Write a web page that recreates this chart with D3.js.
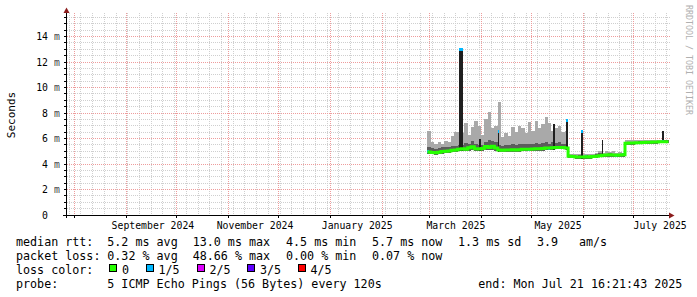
<!DOCTYPE html>
<html>
<head>
<meta charset="utf-8">
<script src="https://cdn.jsdelivr.net/npm/d3@7"></script>
<style>
  body { margin: 0; background: #fff; }
  svg { display: block; }
  text { font-family: "DejaVu Sans Mono", monospace; fill: #000; }
</style>
</head>
<body>
<script>
// smokeping style rtt graph, one sample every 2 days (values in ms)

var firstSample = new Date(2025, 1, 28)
  , lastSample = new Date(2025, 6, 21)
  , sampleDates = d3.timeDay.range(firstSample, lastSample, 2);

var medianRtt = [
  4.95, 4.90, 4.88, 4.92, 4.98, 5.00, 5.02, 5.08, 5.10, 5.15,
  5.20, 5.15, 5.28, 5.35, 5.20, 5.18, 5.22, 5.38, 5.30, 5.40,
  5.25, 5.10, 5.08, 5.10, 5.10, 5.12, 5.10, 5.12, 5.15, 5.15,
  5.15, 5.18, 5.20, 5.20, 5.22, 5.25, 5.25, 5.28, 5.30, 5.30,
  5.30, 5.25, 4.60, 4.58, 4.55, 4.55, 4.55, 4.56, 4.55, 4.58,
  4.60, 4.65, 4.68, 4.70, 4.72, 4.70, 4.68, 4.70, 4.72, 5.62,
  5.64, 5.65, 5.66, 5.67, 5.68, 5.70, 5.70, 5.72, 5.73, 5.74,
  5.75, 5.75
];

var minRtt = [
  4.80, 4.75, 4.72, 4.78, 4.82, 4.85, 4.88, 4.92, 4.95, 5.00,
  5.02, 5.00, 5.05, 5.10, 5.02, 5.00, 5.02, 5.10, 5.08, 5.12,
  5.05, 4.95, 4.95, 4.96, 4.96, 4.98, 4.96, 4.98, 5.00, 5.00,
  5.00, 5.02, 5.05, 5.05, 5.06, 5.08, 5.10, 5.12, 5.14, 5.14,
  5.14, 5.10, 4.45, 4.45, 4.42, 4.42, 4.42, 4.43, 4.42, 4.45,
  4.47, 4.52, 4.55, 4.57, 4.58, 4.57, 4.55, 4.57, 4.58, 5.50,
  5.52, 5.53, 5.54, 5.55, 5.56, 5.57, 5.58, 5.60, 5.60, 5.61,
  5.62, 5.62
];

// inner (darker) smoke top
var midRtt = [
  5.30, 5.25, 5.20, 5.25, 5.30, 5.30, 5.35, 5.40, 5.45, 5.50,
  5.50, 5.65, 5.55, 5.80, 5.60, 5.50, 5.50, 5.75, 5.85, 5.80,
  5.70, 5.50, 5.45, 5.50, 5.50, 5.55, 5.50, 5.60, 5.55, 5.55,
  5.60, 5.55, 5.65, 5.60, 5.65, 5.70, 5.60, 5.70, 5.65, 5.70,
  5.60, 5.60, 4.70, 4.68, 4.65, 4.68, 4.65, 4.68, 4.66, 4.70,
  4.75, 4.85, 4.80, 4.82, 4.85, 4.80, 4.80, 4.82, 4.83, 5.72,
  5.74, 5.75, 5.76, 5.77, 5.78, 5.80, 5.80, 5.82, 5.83, 5.84,
  5.85, 5.85
];

// outer (light) smoke top
var maxRtt = [
  6.60, 5.70, 5.60, 5.75, 5.60, 5.80, 5.70, 6.20, 6.50, 6.50,
  6.40, 7.20, 6.30, 6.90, 7.40, 7.00, 6.30, 7.50, 8.10, 6.80,
  7.00, 8.90, 6.10, 6.40, 6.20, 6.90, 6.50, 7.00, 6.80, 6.40,
  7.30, 6.60, 7.40, 6.80, 7.10, 7.70, 7.20, 6.60, 6.80, 7.00,
  6.50, 6.60, 4.80, 4.75, 4.80, 4.75, 4.80, 4.75, 4.80, 4.80,
  4.90, 5.00, 4.90, 5.00, 4.95, 5.05, 4.90, 4.95, 4.90, 5.85,
  5.88, 5.85, 5.86, 5.88, 5.87, 5.88, 5.90, 5.90, 5.90, 5.92,
  5.92, 5.92
];

// lost pings out of 5
var lossCount = [
  1, 0, 0, 0, 1, 0, 0, 0, 0, 1,
  0, 0, 0, 0, 0, 0, 0, 0, 0, 0,
  0, 1, 0, 0, 0, 0, 0, 0, 0, 0,
  1, 0, 0, 0, 0, 0, 1, 0, 0, 1,
  0, 2, 0, 0, 0, 0, 0, 1, 0, 0,
  0, 0, 0, 0, 0, 0, 1, 0, 1, 0,
  0, 0, 0, 0, 0, 0, 0, 0, 0, 0,
  1, 0
];

// short bursts where every ping was slow
var spikeDates = ['2025-03-19', '2025-03-20', '2025-03-31', '2025-04-11', '2025-05-14',
                  '2025-05-22', '2025-05-31', '2025-06-12', '2025-07-18'];
var spikeTops = [13.1, 13.1, 6.0, 6.7, 7.1, 7.5, 6.7, 5.85, 6.6];
var spikeLoss = [1, 1, 0, 1, 0, 1, 1, 0, 0];

var lossLabels = ['0', '1/5', '2/5', '3/5', '4/5'];
var lossColors = ['#26ff00', '#00b8ff', '#dd00ff', '#5e00ff', '#ff0000'];

var yLabelSteps = [0, 2, 4, 6, 8, 10, 12, 14];

var statRtt = ['5.2 ms avg', '13.0 ms max', '4.5 ms min', '5.7 ms now', '1.3 ms sd', '3.9', 'am/s'];
var statLoss = ['0.32 % avg', '48.66 % max', '0.00 % min', '0.07 % now'];

var tEnd = new Date(2025, 6, 21, 16, 21, 43)
  , tStart = d3.timeDay.offset(tEnd, -359)
  , yMax = 15.69;

// layout
var W = 697, H = 297
  , plotLeft = 67, plotRight = 668
  , plotTop = 15, plotBottom = 215;

var parseDay = d3.timeParse('%Y-%m-%d');

var x = d3.scaleTime().domain([tStart, tEnd]).range([plotLeft, plotRight]);
var y = d3.scaleLinear().domain([0, yMax]).range([plotBottom, plotTop]);

var svg = d3.select('body').append('svg')
  .attr('width', W)
  .attr('height', H);

svg.append('defs').append('clipPath').attr('id', 'plot')
  .append('rect')
  .attr('x', plotLeft).attr('y', 0)
  .attr('width', plotRight - plotLeft + 1).attr('height', plotBottom);

var crisp = function (v) { return Math.floor(v) + 0.5; };

// grid
var grid = svg.append('g').attr('shape-rendering', 'crispEdges');

var minorY = y.ticks(30).filter(function (v) { return v > 0 && v % 2 !== 0; })
  , majorY = yLabelSteps.filter(function (v) { return v > 0; })
  , minorX = d3.timeMonday.range(tStart, tEnd)
  , majorX = d3.timeMonth.range(tStart, tEnd);

grid.selectAll('line.minx').data(minorX).enter().append('line')
  .attr('x1', function (d) { return crisp(x(d)); })
  .attr('x2', function (d) { return crisp(x(d)); })
  .attr('y1', 13).attr('y2', plotBottom)
  .attr('stroke', '#cfcfcf').attr('stroke-dasharray', '1,1');

grid.selectAll('line.miny').data(minorY).enter().append('line')
  .attr('x1', plotLeft).attr('x2', plotRight + 2)
  .attr('y1', function (d) { return crisp(y(d)); })
  .attr('y2', function (d) { return crisp(y(d)); })
  .attr('stroke', '#cfcfcf').attr('stroke-dasharray', '1,1');

grid.selectAll('line.majx').data(majorX).enter().append('line')
  .attr('x1', function (d) { return crisp(x(d)); })
  .attr('x2', function (d) { return crisp(x(d)); })
  .attr('y1', 13).attr('y2', plotBottom)
  .attr('stroke', '#ee9c9c').attr('stroke-dasharray', '1,1');

grid.selectAll('line.majy').data(majorY).enter().append('line')
  .attr('x1', plotLeft).attr('x2', plotRight + 2)
  .attr('y1', function (d) { return crisp(y(d)); })
  .attr('y2', function (d) { return crisp(y(d)); })
  .attr('stroke', '#ee9c9c').attr('stroke-dasharray', '1,1');

// smoke
var samples = sampleDates.map(function (d, i) {
  return { t: d, t2: d3.timeDay.offset(d, 2), med: medianRtt[i], lo: minRtt[i],
           mid: midRtt[i], hi: maxRtt[i], loss: lossCount[i] };
});

var data = svg.append('g').attr('clip-path', 'url(#plot)');
var bars = data.append('g').attr('shape-rendering', 'crispEdges');

bars.selectAll('rect.outer').data(samples).enter().append('rect')
  .attr('x', function (d) { return x(d.t); })
  .attr('width', function (d) { return x(d.t2) - x(d.t); })
  .attr('y', function (d) { return y(d.hi); })
  .attr('height', function (d) { return y(d.lo) - y(d.hi); })
  .attr('fill', '#a9a9a9');

bars.selectAll('rect.inner').data(samples).enter().append('rect')
  .attr('x', function (d) { return x(d.t); })
  .attr('width', function (d) { return x(d.t2) - x(d.t); })
  .attr('y', function (d) { return y(d.mid); })
  .attr('height', function (d) { return y(d.lo) - y(d.mid); })
  .attr('fill', '#5c5c5c');

var findSample = d3.bisector(function (d) { return d.t; }).right;

var spikes = spikeDates.map(function (s, i) {
  var t = parseDay(s)
    , k = Math.max(0, findSample(samples, t) - 1);
  return { t: t, t2: d3.timeDay.offset(t, 1), top: spikeTops[i], base: samples[k].lo, loss: spikeLoss[i] };
});

bars.selectAll('rect.spike').data(spikes).enter().append('rect')
  .attr('x', function (d) { return x(d.t); })
  .attr('width', function (d) { return Math.max(1.5, x(d.t2) - x(d.t)); })
  .attr('y', function (d) { return y(d.top); })
  .attr('height', function (d) { return y(d.base) - y(d.top); })
  .attr('fill', '#1f1f1f');

// median line, coloured by loss
var medLine = d3.line()
  .x(function (d) { return x(d.t); })
  .y(function (d) { return y(d.med); })
  .curve(d3.curveStepAfter);

var linePts = samples.concat([{ t: samples[samples.length - 1].t2, med: samples[samples.length - 1].med }]);

data.append('path')
  .datum(linePts)
  .attr('d', medLine)
  .attr('fill', 'none')
  .attr('stroke', lossColors[0])
  .attr('stroke-width', 3);

bars.selectAll('rect.loss').data(samples.filter(function (d) { return d.loss > 0; })).enter().append('rect')
  .attr('x', function (d) { return x(d.t); })
  .attr('width', function (d) { return x(d3.timeDay.offset(d.t, 1)) - x(d.t); })
  .attr('y', function (d) { return y(d.med) - 1.5; })
  .attr('height', 3)
  .attr('fill', function (d) { return lossColors[d.loss]; });

bars.selectAll('rect.cap').data(spikes.filter(function (d) { return d.loss > 0; })).enter().append('rect')
  .attr('x', function (d) { return x(d.t); })
  .attr('width', function (d) { return Math.max(1.5, x(d.t2) - x(d.t)); })
  .attr('y', function (d) { return y(d.top); })
  .attr('height', 3)
  .attr('fill', function (d) { return lossColors[d.loss]; });

// axes
var axis = svg.append('g').attr('shape-rendering', 'crispEdges');

axis.append('line')
  .attr('x1', 63).attr('x2', 670)
  .attr('y1', plotBottom + 0.5).attr('y2', plotBottom + 0.5)
  .attr('stroke', '#000');

axis.append('line')
  .attr('x1', plotLeft - 0.5).attr('x2', plotLeft - 0.5)
  .attr('y1', 218).attr('y2', 12)
  .attr('stroke', '#000');

axis.selectAll('line.ty').data(minorY.concat(majorY)).enter().append('line')
  .attr('x1', 64).attr('x2', plotLeft)
  .attr('y1', function (d) { return crisp(y(d)); })
  .attr('y2', function (d) { return crisp(y(d)); })
  .attr('stroke', '#000');

axis.selectAll('line.tx').data(majorX).enter().append('line')
  .attr('x1', function (d) { return crisp(x(d)); })
  .attr('x2', function (d) { return crisp(x(d)); })
  .attr('y1', plotBottom).attr('y2', plotBottom + 3)
  .attr('stroke', '#000');

svg.append('path')
  .attr('d', 'M669,212.5L669,218.5L674.5,215.5Z')
  .attr('fill', '#8b1c1c');

svg.append('path')
  .attr('d', 'M63.5,13L69.5,13L66.5,7.5Z')
  .attr('fill', '#8b1c1c');

// axis labels
var yl = svg.append('g').attr('font-size', '9.8px');

yl.selectAll('text.num').data(yLabelSteps).enter().append('text')
  .attr('x', 48)
  .attr('y', function (d) { return crisp(y(d)) + 3.3; })
  .attr('text-anchor', 'end')
  .text(function (d) { return d; });

yl.selectAll('text.unit').data(majorY).enter().append('text')
  .attr('x', 54)
  .attr('y', function (d) { return crisp(y(d)) + 3.3; })
  .style('fill', '#444')
  .text('m');

var labelMonths = d3.timeMonth.every(2).range(tStart, tEnd);

svg.append('g').attr('font-size', '9.8px')
  .selectAll('text').data(labelMonths).enter().append('text')
  .attr('x', function (d) { return x(d3.timeDay.offset(d, 16)); })
  .attr('y', 228.5)
  .attr('text-anchor', 'middle')
  .text(d3.timeFormat('%B %Y'));

svg.append('text')
  .attr('transform', 'translate(15,115) rotate(-90)')
  .attr('text-anchor', 'middle')
  .attr('font-size', '11px')
  .text('Seconds');

svg.append('text')
  .attr('transform', 'translate(686,60) rotate(90)')
  .attr('text-anchor', 'middle')
  .attr('font-size', '8.3px')
  .style('fill', '#b0b0b0')
  .text('RRDTOOL / TOBI OETIKER');

// legend
var lg = svg.append('g').attr('font-size', '11.7px');
var rows = [245.5, 259.8, 274, 288.2];

var put = function (str, px, py) {
  lg.append('text').attr('x', px).attr('y', py).attr('xml:space', 'preserve').text(str);
};

put('median rtt:', 16, rows[0]);
[107.3, 192.7, 286, 372, 458, 537, 579].forEach(function (px, i) { put(statRtt[i], px, rows[0]); });

put('packet loss:', 16, rows[1]);
[107.3, 192.7, 286, 372].forEach(function (px, i) { put(statLoss[i], px, rows[1]); });

put('loss color:', 16, rows[2]);
var swatchX = [109.5, 146, 197, 247.5, 298];
var sw = lg.selectAll('g.sw').data(lossLabels).enter().append('g');
sw.append('rect')
  .attr('x', function (d, i) { return swatchX[i]; })
  .attr('y', 264.5)
  .attr('width', 7).attr('height', 7)
  .attr('fill', function (d, i) { return lossColors[i]; })
  .attr('stroke', '#000')
  .attr('shape-rendering', 'crispEdges');
sw.append('text')
  .attr('x', function (d, i) { return swatchX[i] + 12.5; })
  .attr('y', rows[2])
  .text(function (d) { return d; });

put('probe:', 16, rows[3]);
put('5 ICMP Echo Pings (56 Bytes) every 120s', 107.3, rows[3]);
put('end: Mon Jul 21 16:21:43 2025', 478.3, rows[3]);
</script>
</body>
</html>
